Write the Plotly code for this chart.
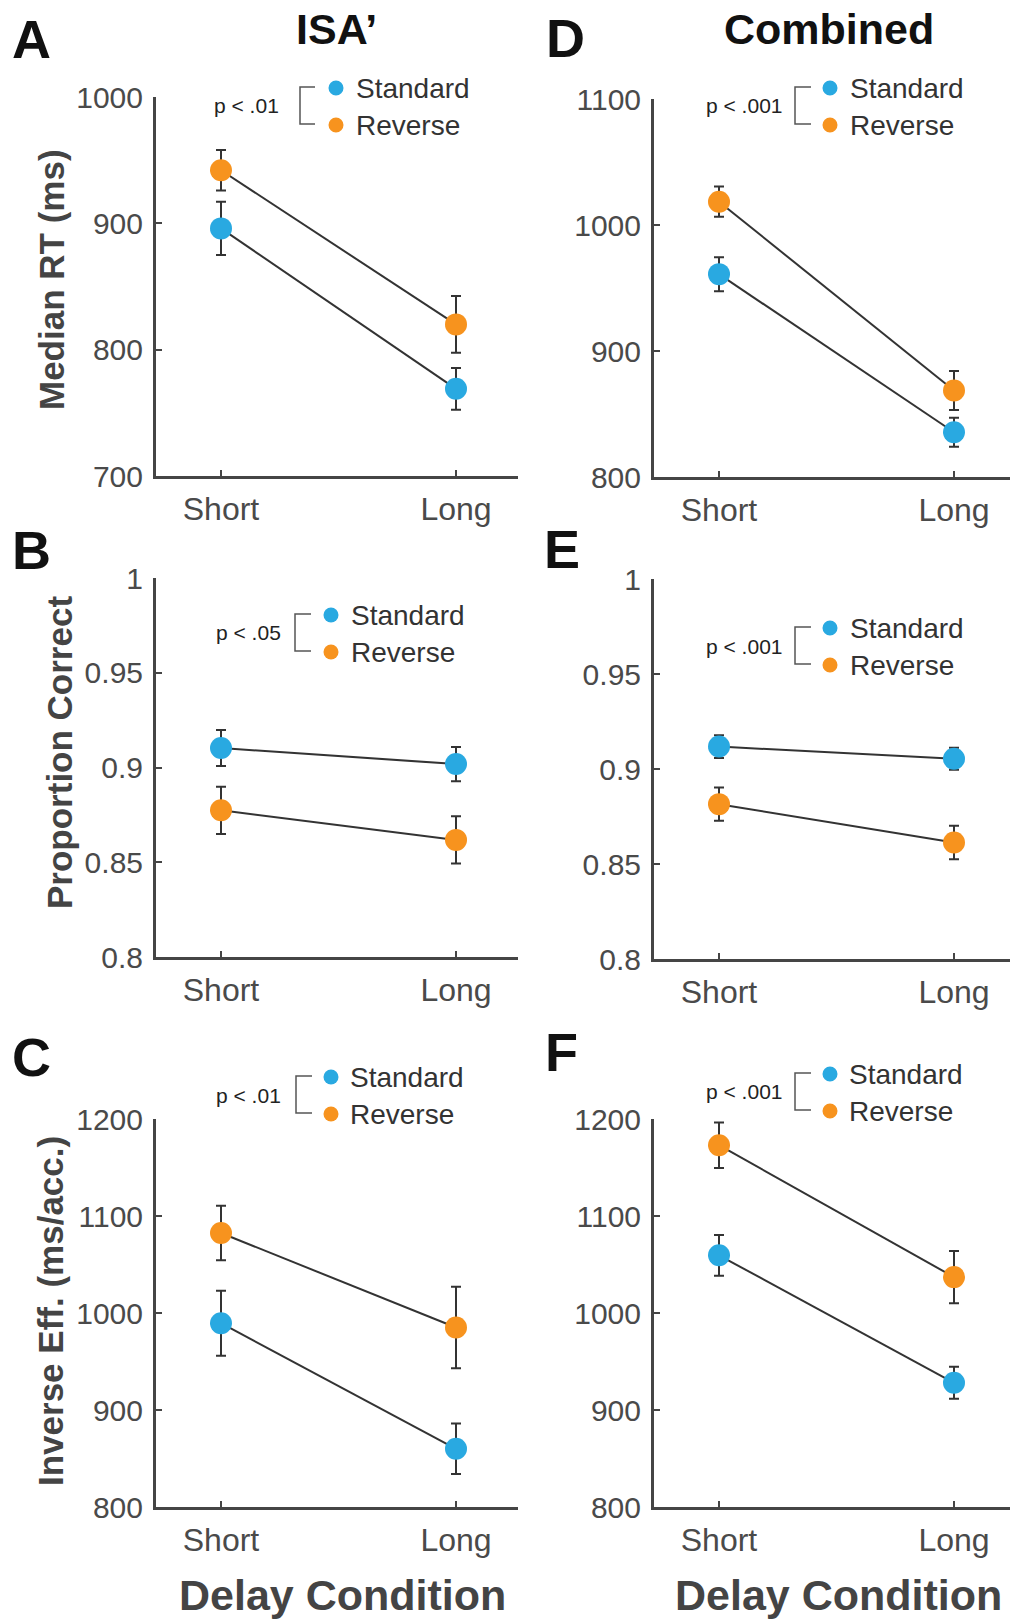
import plotly.graph_objects as go

W, H = 1010, 1619

# ---------------- data ----------------
categories = ["Short", "Long"]
cat_pos = [1, 2]
series_names = ["Standard", "Reverse"]

# A: ISA' Median RT
A_standard = [896.0, 769.0]
A_standard_err = [21.0, 16.5]
A_reverse = [942.0, 820.0]
A_reverse_err = [16.0, 22.5]

# B: ISA' Proportion correct
B_standard = [0.9103, 0.9018]
B_standard_err = [0.0095, 0.0090]
B_reverse = [0.8774, 0.8618]
B_reverse_err = [0.0125, 0.0125]

# C: ISA' Inverse efficiency
C_standard = [989.5, 860.0]
C_standard_err = [33.5, 26.0]
C_reverse = [1082.5, 985.0]
C_reverse_err = [28.0, 42.0]

# D: Combined Median RT
D_standard = [961.0, 835.5]
D_standard_err = [13.5, 11.5]
D_reverse = [1018.5, 868.7]
D_reverse_err = [12.0, 15.5]

# E: Combined Proportion correct
E_standard = [0.9118, 0.9054]
E_standard_err = [0.0060, 0.0058]
E_reverse = [0.8815, 0.8613]
E_reverse_err = [0.0088, 0.0088]

# F: Combined Inverse efficiency
F_standard = [1059.5, 928.0]
F_standard_err = [21.0, 16.5]
F_reverse = [1173.0, 1037.0]
F_reverse_err = [23.5, 27.0]

rt_ticks_A = [700, 800, 900, 1000]
rt_ticks_D = [800, 900, 1000, 1100]
pc_ticks = [0.8, 0.85, 0.9, 0.95, 1.0]
pc_ticktext = ["0.8", "0.85", "0.9", "0.95", "1"]
ie_ticks = [800, 900, 1000, 1100, 1200]

p_labels = {"A": "p < .01", "B": "p < .05", "C": "p < .01",
            "D": "p < .001", "E": "p < .001", "F": "p < .001"}

# ---------------- style ----------------
BLUE = "#29A9E1"
ORANGE = "#F7931E"
AXIS = "#454545"
TICKC = "#4a4a4a"
FONT = "Liberation Sans, Arial, Helvetica, sans-serif"


def px_x(x):
    return x / W


def px_y(y):
    return 1 - y / H


# panel geometry (pixels): x0, x1, y_top, y_bottom
panels = {
    "A": dict(n=1, box=(156, 518, 97, 476), yr=(700, 1000), tv=rt_ticks_A, tt=[str(v) for v in rt_ticks_A],
              s=A_standard, se=A_standard_err, r=A_reverse, re=A_reverse_err,
              leg=dict(bx=300, bh=315, yt=87, yb=124, mx=336, tx=354, px=246, py=106)),
    "B": dict(n=2, box=(156, 518, 578, 957), yr=(0.8, 1.0), tv=pc_ticks, tt=pc_ticktext,
              s=B_standard, se=B_standard_err, r=B_reverse, re=B_reverse_err,
              leg=dict(bx=295, bh=311, yt=614, yb=651, mx=331, tx=349, px=248, py=632)),
    "C": dict(n=3, box=(156, 518, 1119, 1507), yr=(800, 1200), tv=ie_ticks, tt=[str(v) for v in ie_ticks],
              s=C_standard, se=C_standard_err, r=C_reverse, re=C_reverse_err,
              leg=dict(bx=296, bh=312, yt=1076, yb=1113, mx=331, tx=348, px=248, py=1095)),
    "D": dict(n=4, box=(654, 1010, 99, 477), yr=(800, 1100), tv=rt_ticks_D, tt=[str(v) for v in rt_ticks_D],
              s=D_standard, se=D_standard_err, r=D_reverse, re=D_reverse_err,
              leg=dict(bx=795, bh=811, yt=87, yb=124, mx=830, tx=848, px=744, py=106)),
    "E": dict(n=5, box=(654, 1010, 579, 959), yr=(0.8, 1.0), tv=pc_ticks, tt=pc_ticktext,
              s=E_standard, se=E_standard_err, r=E_reverse, re=E_reverse_err,
              leg=dict(bx=795, bh=811, yt=627, yb=664, mx=830, tx=848, px=744, py=646)),
    "F": dict(n=6, box=(654, 1010, 1119, 1507), yr=(800, 1200), tv=ie_ticks, tt=[str(v) for v in ie_ticks],
              s=F_standard, se=F_standard_err, r=F_reverse, re=F_reverse_err,
              leg=dict(bx=795, bh=811, yt=1073, yb=1110, mx=830, tx=847, px=744, py=1091)),
}

fig = go.Figure()
layout = dict(
    template="none",
    width=W, height=H,
    margin=dict(l=0, r=0, t=0, b=0, autoexpand=False),
    paper_bgcolor="white", plot_bgcolor="white",
    showlegend=False,
    font=dict(family=FONT, color=TICKC),
)
shapes = []
annotations = []

for key, p in panels.items():
    n = p["n"]
    x0, x1, yt, yb = p["box"]
    xa = "xaxis" if n == 1 else f"xaxis{n}"
    ya = "yaxis" if n == 1 else f"yaxis{n}"
    xref = "x" if n == 1 else f"x{n}"
    yref = "y" if n == 1 else f"y{n}"
    unit = 235.0
    left = 1 - (65.0 / unit)
    right = 2 + ((x1 - x0 - 65.0 - unit) / unit)
    layout[xa] = dict(
        domain=[px_x(x0), px_x(x1)], anchor=yref, range=[left, right],
        tickmode="array", tickvals=cat_pos, ticktext=categories,
        showline=True, linecolor=AXIS, linewidth=3, mirror=False,
        ticks="inside", ticklen=6, tickwidth=2, tickcolor=AXIS,
        showgrid=False, zeroline=False, fixedrange=True, automargin=False,
        tickfont=dict(family=FONT, size=32, color=TICKC),
        ticklabelstandoff=3,
    )
    layout[ya] = dict(
        domain=[px_y(yb), px_y(yt)], anchor=xref, range=list(p["yr"]),
        tickmode="array", tickvals=p["tv"], ticktext=p["tt"],
        showline=True, linecolor=AXIS, linewidth=3, mirror=False,
        ticks="inside", ticklen=6, tickwidth=2, tickcolor=AXIS,
        showgrid=False, zeroline=False, fixedrange=True, automargin=False,
        tickfont=dict(family=FONT, size=30, color=TICKC),
        ticklabelstandoff=4,
    )
    for vals, errs, col in ((p["s"], p["se"], BLUE), (p["r"], p["re"], ORANGE)):
        fig.add_trace(go.Scatter(
            x=cat_pos, y=vals, xaxis=xref, yaxis=yref,
            mode="lines+markers",
            line=dict(color="#333333", width=2),
            marker=dict(color=col, size=22, line=dict(width=0)),
            error_y=dict(type="data", array=errs, visible=True,
                         color="#333333", thickness=2, width=5),
            cliponaxis=False,
        ))
    # legend-like key
    L = p["leg"]
    shapes.append(dict(
        type="path", xref="paper", yref="paper",
        path=(f"M {px_x(L['bh'])} {px_y(L['yt'])} L {px_x(L['bx'])} {px_y(L['yt'])} "
              f"L {px_x(L['bx'])} {px_y(L['yb'])} L {px_x(L['bh'])} {px_y(L['yb'])}"),
        line=dict(color="#555555", width=1.5),
    ))
    for yy, col, name in ((L["yt"] + 1, BLUE, series_names[0]), (L["yb"] + 1, ORANGE, series_names[1])):
        r = 7.5
        shapes.append(dict(
            type="circle", xref="paper", yref="paper",
            x0=px_x(L["mx"] - r), x1=px_x(L["mx"] + r),
            y0=px_y(yy + r), y1=px_y(yy - r),
            fillcolor=col, line=dict(width=0),
        ))
        annotations.append(dict(
            xref="paper", yref="paper", x=px_x(L["tx"]), y=px_y(yy),
            text=name, showarrow=False, xanchor="left", yanchor="middle",
            font=dict(family=FONT, size=28, color="#333333"),
        ))
    annotations.append(dict(
        xref="paper", yref="paper", x=px_x(L["px"]), y=px_y(L["py"]),
        text=p_labels[key], showarrow=False, xanchor="center", yanchor="middle",
        font=dict(family=FONT, size=21, color="#222222"),
    ))

# panel letters
letters = {"A": (31, 39), "B": (31, 550), "C": (31, 1057), "D": (565, 38), "E": (562, 549), "F": (561, 1052)}
for k, (lx, ly) in letters.items():
    annotations.append(dict(
        xref="paper", yref="paper", x=px_x(lx), y=px_y(ly), text=f"<b>{k}</b>",
        showarrow=False, xanchor="center", yanchor="middle",
        font=dict(family=FONT, size=54, color="#111111"),
    ))

# column titles
for txt, cx in (("ISA\u2019", 336), ("Combined", 829)):
    annotations.append(dict(
        xref="paper", yref="paper", x=px_x(cx), y=px_y(29), text=f"<b>{txt}</b>",
        showarrow=False, xanchor="center", yanchor="middle",
        font=dict(family=FONT, size=43, color="#111111"),
    ))

# y-axis titles
for txt, cx, cy in (("Median RT (ms)", 51, 280), ("Proportion Correct", 59, 753),
                    ("Inverse Eff. (ms/acc.)", 50, 1311)):
    annotations.append(dict(
        xref="paper", yref="paper", x=px_x(cx), y=px_y(cy), text=f"<b>{txt}</b>",
        showarrow=False, xanchor="center", yanchor="middle", textangle=-90,
        font=dict(family=FONT, size=35, color="#444444"),
    ))

# x-axis titles
for cx in (342, 838):
    annotations.append(dict(
        xref="paper", yref="paper", x=px_x(cx), y=px_y(1595), text="<b>Delay Condition</b>",
        showarrow=False, xanchor="center", yanchor="middle",
        font=dict(family=FONT, size=43, color="#444444"),
    ))

layout["shapes"] = shapes
layout["annotations"] = annotations
fig.update_layout(**layout)
fig.write_html(
    "out.html",
    config={"displayModeBar": False},
    post_script="document.body.style.margin='0';document.body.style.overflow='hidden';",
)
